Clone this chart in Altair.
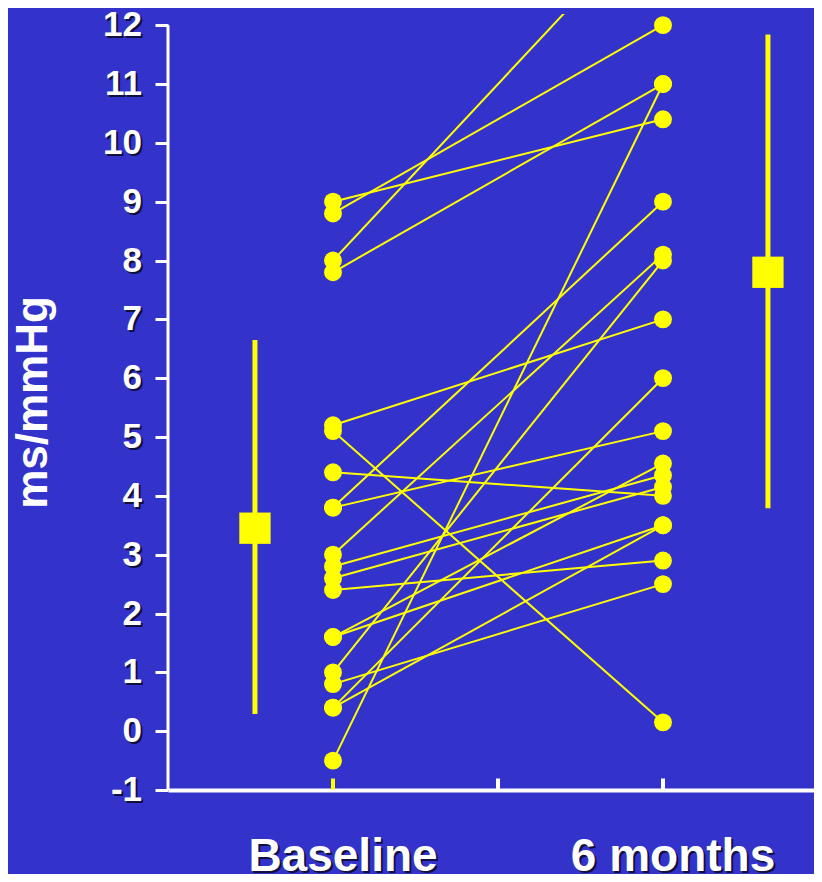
import altair as alt
import pandas as pd

# ---- data ----
baseline = [9.0, 8.8, 8.0, 7.8, 5.2, 5.1, 4.4, 3.8, 3.8, 3.0,
            2.8, 2.6, 2.4, 1.6, 1.6, 1.0, 0.8, 0.4, 0.4, -0.5]
six_months = [10.4, 12.0, 14.0, 11.0, 7.0, 0.15, 4.0, 9.0, 5.1, 8.1,
              4.35, 4.15, 2.9, 4.55, 3.5, 8.0, 2.5, 6.0, 3.5, 11.0]
time_positions = [1, 3]
time_labels = ["Baseline", "6 months"]
axis_ticks = [1, 2, 3]
tick_colors = ["#FFFF00", "#FFFFFF", "#FFFFFF"]
summary_pos = [0.527, 3.636]
summary_mean = [3.45, 7.8]
summary_low = [0.29, 3.79]
summary_high = [6.65, 11.84]
y_ticks = list(range(-1, 13))

YELLOW = "#FFFF00"
BG = "#3333CC"
SHADOW = "#10103A"
FONT = "Liberation Sans"

rows = []
for i, (b, s) in enumerate(zip(baseline, six_months)):
    rows.append({"pid": i, "x": time_positions[0], "v": b})
    rows.append({"pid": i, "x": time_positions[1], "v": s})
df = pd.DataFrame(rows)

summary = pd.DataFrame({"x": summary_pos, "mean": summary_mean,
                        "lo": summary_low, "hi": summary_high})
ticks = pd.DataFrame({"x": axis_ticks, "c": tick_colors, "y": [y_ticks[0]] * len(axis_ticks)})
ylab = pd.DataFrame({"v": y_ticks, "t": [str(v) for v in y_ticks], "x": [0] * len(y_ticks)})
xlab = pd.DataFrame({"x": time_positions, "t": time_labels, "y": [y_ticks[0]] * len(time_positions)})
yline = pd.DataFrame({"x": [0], "lo": [y_ticks[0]], "hi": [y_ticks[-1]]})

W, H = 646, 776
X_MAX = W / 165.0
Y_DOMAIN = [-1, 12.19]

xs = alt.Scale(domain=[0, X_MAX], nice=False, zero=False)
ys = alt.Scale(domain=Y_DOMAIN, nice=False, zero=False)

x_axis = alt.Axis(values=time_positions, labels=False, ticks=False, grid=False,
                  domainColor="white", domainWidth=4, title=None)
y_axis = alt.Axis(values=y_ticks, labels=False, grid=False, domain=False,
                  tickColor="white", tickSize=13, tickWidth=3,
                  title="ms/mmHg", titleColor="white", titleFont=FONT,
                  titleFontSize=44, titleFontWeight="bold", titleX=-135,
                  titleBaseline="middle", titleAlign="center")

lines = alt.Chart(df).mark_line(color=YELLOW, strokeWidth=2, clip=True).encode(
    x=alt.X("x:Q", scale=xs, axis=x_axis),
    y=alt.Y("v:Q", scale=ys, axis=y_axis),
    detail="pid:N",
)

points = alt.Chart(df).transform_filter(
    alt.datum.v <= Y_DOMAIN[1]
).mark_circle(color=YELLOW, size=320, opacity=1).encode(
    x=alt.X("x:Q", scale=xs),
    y=alt.Y("v:Q", scale=ys),
)

y_axis_line = alt.Chart(yline).mark_rule(color="white", strokeWidth=3).encode(
    x=alt.X("x:Q", scale=xs),
    y=alt.Y("lo:Q", scale=ys),
    y2="hi:Q",
)

tick_marks = alt.Chart(ticks).mark_tick(orient="vertical", size=11, thickness=4,
                                        yOffset=-6, opacity=1).encode(
    x=alt.X("x:Q", scale=xs),
    y=alt.Y("y:Q", scale=ys),
    color=alt.Color("c:N", scale=None),
)

bars = alt.Chart(summary).mark_rule(color=YELLOW, strokeWidth=5).encode(
    x=alt.X("x:Q", scale=xs),
    y=alt.Y("lo:Q", scale=ys),
    y2="hi:Q",
)
squares = alt.Chart(summary).mark_point(shape="square", filled=True, color=YELLOW,
                                        size=980, opacity=1).encode(
    x=alt.X("x:Q", scale=xs),
    y=alt.Y("mean:Q", scale=ys),
)


def ylabels(color, dx, dy):
    return alt.Chart(ylab).mark_text(align="right", baseline="middle", font=FONT,
                                     fontSize=35, fontWeight="bold", color=color,
                                     dx=dx, dy=dy).encode(
        x=alt.X("x:Q", scale=xs), y=alt.Y("v:Q", scale=ys), text="t:N")


def xlabels(color, dx, dy):
    return alt.Chart(xlab).mark_text(align="center", baseline="alphabetic", font=FONT,
                                     fontSize=46, fontWeight="bold", color=color,
                                     dx=dx, dy=dy).encode(
        x=alt.X("x:Q", scale=xs), y=alt.Y("y:Q", scale=ys), text="t:N")


chart = alt.layer(
    lines, points, bars, squares, y_axis_line, tick_marks,
    ylabels(SHADOW, -24, 2), ylabels("white", -26, 0),
    xlabels(SHADOW, 12, 83), xlabels("white", 10, 81),
).properties(
    width=W, height=H,
    background=BG,
    autosize=alt.AutoSizeParams(type="none"),
    padding={"left": 160, "top": 6, "right": 0, "bottom": 84},
).configure_view(stroke=None)

chart.save("out.html", embed_options={"renderer": "svg", "actions": False})
